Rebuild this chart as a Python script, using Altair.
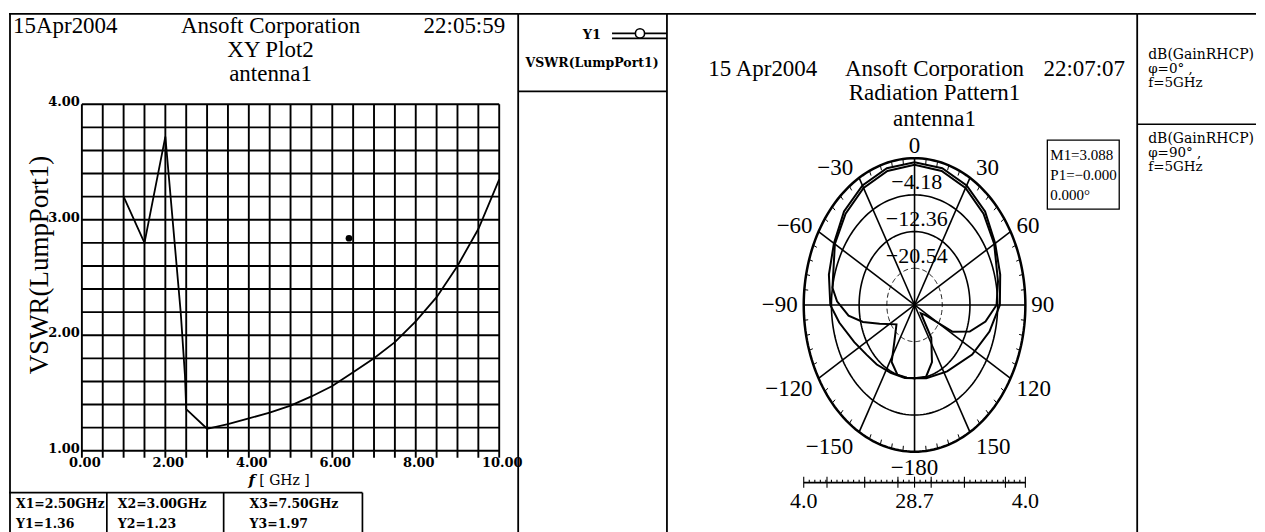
import altair as alt
import numpy as np
import pandas as pd

# ---------------- data ----------------
# XY plot (VSWR vs frequency)
freq_ghz = [1.0, 1.5, 2.0, 2.37, 2.47, 2.5, 3.0, 3.5, 4.0, 4.5, 5.0, 5.5, 6.0, 6.5, 7.0, 7.5, 8.0, 8.5, 9.0, 9.5, 10.0]
vswr = [3.20, 2.80, 3.72, 2.19, 1.65, 1.36, 1.19, 1.23, 1.28, 1.33, 1.39, 1.47, 1.56, 1.68, 1.80, 1.94, 2.12, 2.33, 2.60, 2.92, 3.35]
dot_f = [6.4]
dot_v = [2.84]
x_tick_vals = [0, 2, 4, 6, 8, 10]
y_tick_vals = [1, 2, 3, 4]
x_grid = [0.0, 0.5, 1.0, 1.5, 2.0, 2.5, 3.0, 3.5, 4.0, 4.5, 5.0, 5.5, 6.0, 6.5, 7.0, 7.5, 8.0, 8.5, 9.0, 9.5, 10.0]
y_grid = [1.0, 1.2, 1.4, 1.6, 1.8, 2.0, 2.2, 2.4, 2.6, 2.8, 3.0, 3.2, 3.4, 3.6, 3.8, 4.0]
marker_x = [2.50, 3.00, 7.50]
marker_y = [1.36, 1.23, 1.97]

# Radiation pattern (dB, angle in degrees)
ring_db = [4.0, -4.18, -12.36, -20.54]
db_center = -28.72
spoke_deg = [0, 30, 60, 90, 120, 150, 180, 210, 240, 270, 300, 330]
angle_label_deg = [0, 30, 60, 90, 120, 150, 180, -150, -120, -90, -60, -30]
angle_label_txt = ["0", "30", "60", "90", "120", "150", "\u2212180", "\u2212150", "\u2212120", "\u221290", "\u221260", "\u221230"]
theta_phi0 = [-180, -170, -155, -140, -128, -115, -100, -90, -75, -60, -45, -30, -15, 0,
              15, 30, 45, 60, 75, 90, 105, 123, 147, 168, 180]
db_phi0 = [-12.36, -12.20, -12.03, -11.38, -10.72, -9.09, -6.14, -3.85, -2.54, -1.24, 0.73, 2.04, 2.85, 3.088,
           2.85, 2.04, 0.73, -1.24, -2.54, -3.53, -5.82, -8.43, -11.05, -12.03, -12.36]
theta_phi90 = [-180, -172, -162, -152, -144, -129, -112, -104, -97, -88, -81, -60, -45, -30, -15, 0,
               15, 30, 45, 60, 78, 90, 100, 110, 118, 125, 135, 146, 158, 168, 180]
db_phi90 = [-12.36, -12.36, -12.36, -14.32, -18.58, -21.85, -17.60, -13.01, -9.09, -5.82, -4.18, -1.56, 0.07, 1.38, 2.20, 2.53,
            2.20, 1.38, 0.07, -1.56, -3.53, -4.51, -7.45, -11.38, -15.96, -24.79, -26.10, -19.89, -14.98, -12.36, -12.36]

# ---------------- layout / style ----------------
SERIF_T = "Liberation Serif"
SERIF_S = "DejaVu Serif"
H = 530
W1, W2, W3, W4 = 510, 149, 471, 119
LW = 1.7


def T(s, x, y, size, font=SERIF_T, align="center", weight="normal", style="normal",
      baseline="alphabetic", angle=None):
    props = dict(align=align, baseline=baseline, fontSize=size, font=font,
                 fontWeight=weight, fontStyle=style, color="black")
    if angle is not None:
        props["angle"] = angle
    return alt.Chart(pd.DataFrame({"t": [s]})).mark_text(**props).encode(
        x=alt.value(x), y=alt.value(y), text="t:N")


def RULE(x1, y1, x2, y2, w=LW):
    return alt.Chart(pd.DataFrame({"a": [0]})).mark_rule(color="black", strokeWidth=w).encode(
        x=alt.value(x1), y=alt.value(y1), x2=alt.value(x2), y2=alt.value(y2))


def FRAME(w, left_x=0.0):
    # top edge and left edge of a panel (right / bottom edges are cut off in the scan)
    return [RULE(0, 0.5, w, 0.5, 1.8), RULE(left_x, 0, left_x, H, 1.8)]


# ================= Panel 1: XY plot =================
X0, X1, Y0, Y1 = 73, 491, 91, 438
kx = (X1 - X0) / 10.0
ky = (Y1 - Y0) / 3.0
xs = alt.Scale(domain=[0 - X0 / kx, 10 + (W1 - X1) / kx], nice=False, zero=False)
ys = alt.Scale(domain=[1 - (H - Y1) / ky, 4 + Y0 / ky], nice=False, zero=False)

vg = pd.DataFrame({"g": x_grid, "ya": 1 - 7 / ky, "yb": 4.0})
vgrid = alt.Chart(vg).mark_rule(color="black", strokeWidth=1.9).encode(
    x=alt.X("g:Q", scale=xs, axis=None), y=alt.Y("ya:Q", scale=ys, axis=None), y2="yb:Q")
hg = pd.DataFrame({"v": y_grid, "xa": 0.0, "xb": 10.0})
hgrid = alt.Chart(hg).mark_rule(color="black", strokeWidth=1.9).encode(
    x=alt.X("xa:Q", scale=xs, axis=None), x2="xb:Q", y=alt.Y("v:Q", scale=ys, axis=None))
curve = alt.Chart(pd.DataFrame({"f": freq_ghz, "v": vswr})).mark_line(
    color="black", strokeWidth=1.8).encode(
    x=alt.X("f:Q", scale=xs, axis=None), y=alt.Y("v:Q", scale=ys, axis=None))
dot = alt.Chart(pd.DataFrame({"f": dot_f, "v": dot_v})).mark_point(
    filled=True, color="black", size=45, opacity=1).encode(
    x=alt.X("f:Q", scale=xs, axis=None), y=alt.Y("v:Q", scale=ys, axis=None))
xlab = alt.Chart(pd.DataFrame({"f": x_tick_vals, "t": [f"{v:.2f}" for v in x_tick_vals]})).mark_text(
    font=SERIF_S, fontSize=13, fontWeight="bold", baseline="alphabetic", dx=3, color="black").encode(
    x=alt.X("f:Q", scale=xs, axis=None), y=alt.value(454), text="t:N")
ylab = alt.Chart(pd.DataFrame({"v": y_tick_vals, "t": [f"{v:.2f}" for v in y_tick_vals]})).mark_text(
    font=SERIF_S, fontSize=13, fontWeight="bold", align="right", baseline="middle", dy=-2, color="black").encode(
    x=alt.value(X0 - 2), y=alt.Y("v:Q", scale=ys, axis=None), text="t:N")

p1_layers = FRAME(W1, 1.0) + [
    vgrid, hgrid, curve, dot, xlab, ylab,
    T("15Apr2004", 4, 20, 23, align="left"),
    T("Ansoft Corporation", 262, 20, 23),
    T("22:05:59", 497, 20, 23, align="right"),
    T("XY Plot2", 262, 44, 23),
    T("antenna1", 262, 68, 23),
    T("VSWR(LumpPort1)", 31, 252, 27, angle=270, baseline="middle"),
    T("f", 243, 472, 15, font=SERIF_S, weight="bold", style="italic"),
    T("[ GHz ]", 276, 472, 14, font=SERIF_S),
    RULE(0, 480, 354, 480), RULE(98, 480, 98, H), RULE(215, 480, 215, H), RULE(354, 480, 354, H)]
col_x = [7, 109, 241]
for i in range(3):
    p1_layers.append(T(f"X{i+1}={marker_x[i]:.2f}GHz", col_x[i], 495, 12.5, font=SERIF_S, align="left", weight="bold"))
    p1_layers.append(T(f"Y{i+1}={marker_y[i]:.2f}", col_x[i], 515, 12.5, font=SERIF_S, align="left", weight="bold"))
panel1 = alt.layer(*p1_layers).properties(width=W1, height=H)

# ================= Panel 2: legend of XY plot =================
circ = alt.Chart(pd.DataFrame({"a": [0]})).mark_point(
    shape="circle", filled=True, fill="white", stroke="black", strokeWidth=1.6, size=85, opacity=1).encode(
    x=alt.value(122), y=alt.value(20))
panel2 = alt.layer(
    *FRAME(W2),
    RULE(94, 20, W2, 20, 1.6), RULE(94, 25, W2, 25, 1.6), circ,
    T("Y1", 83, 26, 13, font=SERIF_S, align="right", weight="bold"),
    T("VSWR(LumpPort1)", 74, 54, 12.5, font=SERIF_S, weight="bold"),
    RULE(0, 78, W2, 78),
).properties(width=W2, height=H)

# ================= Panel 3: radiation pattern =================
CX, CY, RX, RY = 248, 292, 111.0, 147.0
pxs = alt.Scale(domain=[-CX / RX, (W3 - CX) / RX], nice=False, zero=False)
pys = alt.Scale(domain=[-(H - CY) / RY, CY / RY], nice=False, zero=False)


def rnorm(db):
    return (np.asarray(db, dtype=float) - db_center) / (ring_db[0] - db_center)


def XP(field):
    return alt.X(field, scale=pxs, axis=None)


def YP(field):
    return alt.Y(field, scale=pys, axis=None)


# rings
th = np.radians(np.arange(0, 361, 2))
ring_rows = []
for i, db in enumerate(ring_db):
    r = float(rnorm([db])[0])
    for k, t in enumerate(th):
        ring_rows.append({"ring": i, "k": k, "x": r * np.sin(t), "y": r * np.cos(t)})
rings = pd.DataFrame(ring_rows)
ring_outer = alt.Chart(rings[rings.ring == 0]).mark_line(color="black", strokeWidth=2.5).encode(
    x=XP("x:Q"), y=YP("y:Q"), order="k:Q")
ring_mid = alt.Chart(rings[(rings.ring == 1) | (rings.ring == 2)]).mark_line(color="black", strokeWidth=1.6).encode(
    x=XP("x:Q"), y=YP("y:Q"), order="k:Q", detail="ring:N")
ring_in = alt.Chart(rings[rings.ring == 3]).mark_line(color="black", strokeWidth=0.9, strokeDash=[5, 3]).encode(
    x=XP("x:Q"), y=YP("y:Q"), order="k:Q")

sp = np.radians(spoke_deg)
spokes = alt.Chart(pd.DataFrame({"x0": 0.0, "y0": 0.0, "x1": np.sin(sp), "y1": np.cos(sp)})).mark_rule(
    color="black", strokeWidth=1.6).encode(x=XP("x0:Q"), y=YP("y0:Q"), x2="x1:Q", y2="y1:Q")

tk = np.radians([a for a in range(0, 360, 6) if a % 30 != 0])
ticks = alt.Chart(pd.DataFrame({"x0": 0.965 * np.sin(tk), "y0": 0.965 * np.cos(tk),
                                "x1": np.sin(tk), "y1": np.cos(tk)})).mark_rule(
    color="black", strokeWidth=1.0).encode(x=XP("x0:Q"), y=YP("y0:Q"), x2="x1:Q", y2="y1:Q")


def pattern(thetas, dbs):
    r = rnorm(dbs)
    t = np.radians(thetas)
    return pd.DataFrame({"k": range(len(thetas)), "x": r * np.sin(t), "y": r * np.cos(t)})


c0 = alt.Chart(pattern(theta_phi0, db_phi0)).mark_line(color="black", strokeWidth=2.0).encode(
    x=XP("x:Q"), y=YP("y:Q"), order="k:Q")
c90 = alt.Chart(pattern(theta_phi90, db_phi90)).mark_line(color="black", strokeWidth=2.0).encode(
    x=XP("x:Q"), y=YP("y:Q"), order="k:Q")

# angle labels
lab_rows = []
for a, s in zip(angle_label_deg, angle_label_txt):
    t = np.radians(a)
    sx, cy_ = np.sin(t), np.cos(t)
    if abs(sx) < 0.1:
        side = "center"
        lx = sx
    elif sx > 0:
        side = "left"
        lx = sx + 6 / RX
    else:
        side = "right"
        lx = sx - 6 / RX
    if abs(sx) < 0.1:
        dy_px = -12 * cy_ + (4 if cy_ < 0 else 0)
    else:
        dy_px = -11 * cy_ + (5 if cy_ < -0.1 else 0)
    ly = cy_ - dy_px / RY
    lab_rows.append({"side": side, "x": lx, "y": ly, "t": s})
labs = pd.DataFrame(lab_rows)
ang_layers = []
for side in ["left", "center", "right"]:
    ang_layers.append(alt.Chart(labs[labs.side == side]).mark_text(
        font=SERIF_T, fontSize=23, align=side, baseline="middle", color="black").encode(
        x=XP("x:Q"), y=YP("y:Q"), text="t:N"))

rad = pd.DataFrame({"x": 0.02, "y": rnorm(ring_db[1:]) + 0.085,
                    "t": ["\u2212" + f"{abs(v):.2f}" for v in ring_db[1:]]})
rad_lab = alt.Chart(rad).mark_text(font=SERIF_T, fontSize=22, baseline="middle", color="black").encode(
    x=XP("x:Q"), y=YP("y:Q"), text="t:N")

# radial scale bar under the pattern
ybar = (CY - 470) / RY
bar = alt.Chart(pd.DataFrame({"x0": [-1.0], "x1": [1.0], "y": [ybar]})).mark_rule(
    color="black", strokeWidth=1.6).encode(x=XP("x0:Q"), x2="x1:Q", y=YP("y:Q"))
major = [-1.0, -0.79, -0.45, -0.15, 0.0, 0.15, 0.45, 0.82, 1.0]
minor = [v / 20 for v in range(-19, 20)]
bt = pd.DataFrame({"x": major + minor,
                   "y0": [ybar - 5 / RY] * len(major) + [ybar] * len(minor),
                   "y1": [ybar + 6 / RY] * len(major) + [ybar + 3 / RY] * len(minor)})
bar_ticks = alt.Chart(bt).mark_rule(color="black", strokeWidth=1.1).encode(
    x=XP("x:Q"), y=YP("y0:Q"), y2="y1:Q")
bar_lab = alt.Chart(pd.DataFrame({"x": [-1.0, 0.0, 1.0],
                                  "t": [f"{ring_db[0]:.1f}", f"{abs(db_center):.1f}", f"{ring_db[0]:.1f}"]})).mark_text(
    font=SERIF_T, fontSize=22, baseline="alphabetic", color="black").encode(
    x=XP("x:Q"), y=alt.value(495), text="t:N")

mbox = alt.Chart(pd.DataFrame({"a": [0]})).mark_rect(fill="white", stroke="black", strokeWidth=1.3).encode(
    x=alt.value(381), x2=alt.value(453), y=alt.value(127), y2=alt.value(196))

panel3 = alt.layer(
    *FRAME(W3),
    ring_in, ring_mid, ring_outer, spokes, ticks, c0, c90, *ang_layers, rad_lab,
    bar, bar_ticks, bar_lab,
    T("15 Apr2004", 96, 63, 23), T("Ansoft Corporation", 268, 63, 23), T("22:07:07", 418, 63, 23),
    T("Radiation Pattern1", 268, 87, 23), T("antenna1", 268, 113, 23),
    mbox,
    T(f"M1={db_phi0[theta_phi0.index(0)]:.3f}", 384, 147, 15, align="left"),
    T("P1=\u22120.000", 384, 167, 15, align="left"),
    T("0.000\u00b0", 384, 187, 15, align="left"),
).properties(width=W3, height=H)

# ================= Panel 4: legend of pattern =================
panel4 = alt.layer(
    *FRAME(W4),
    T("dB(GainRHCP)", 11, 46, 14, font=SERIF_S, align="left"),
    T("\u03c6=0\u00b0  ,", 11, 60, 13.5, font=SERIF_S, align="left"),
    T("f=5GHz", 11, 74, 13.5, font=SERIF_S, align="left"),
    RULE(0, 111, W4, 111),
    T("dB(GainRHCP)", 11, 130, 14, font=SERIF_S, align="left"),
    T("\u03c6=90\u00b0  ,", 11, 144, 13.5, font=SERIF_S, align="left"),
    T("f=5GHz", 11, 158, 13.5, font=SERIF_S, align="left"),
).properties(width=W4, height=H)

chart = alt.hconcat(panel1, panel2, panel3, panel4, spacing=0, bounds="flush").configure_view(
    strokeWidth=0).properties(
    padding={"left": 0, "top": 4, "right": 0, "bottom": 0}, background="white")

chart.save("out.html", embed_options={"renderer": "svg", "actions": False})
